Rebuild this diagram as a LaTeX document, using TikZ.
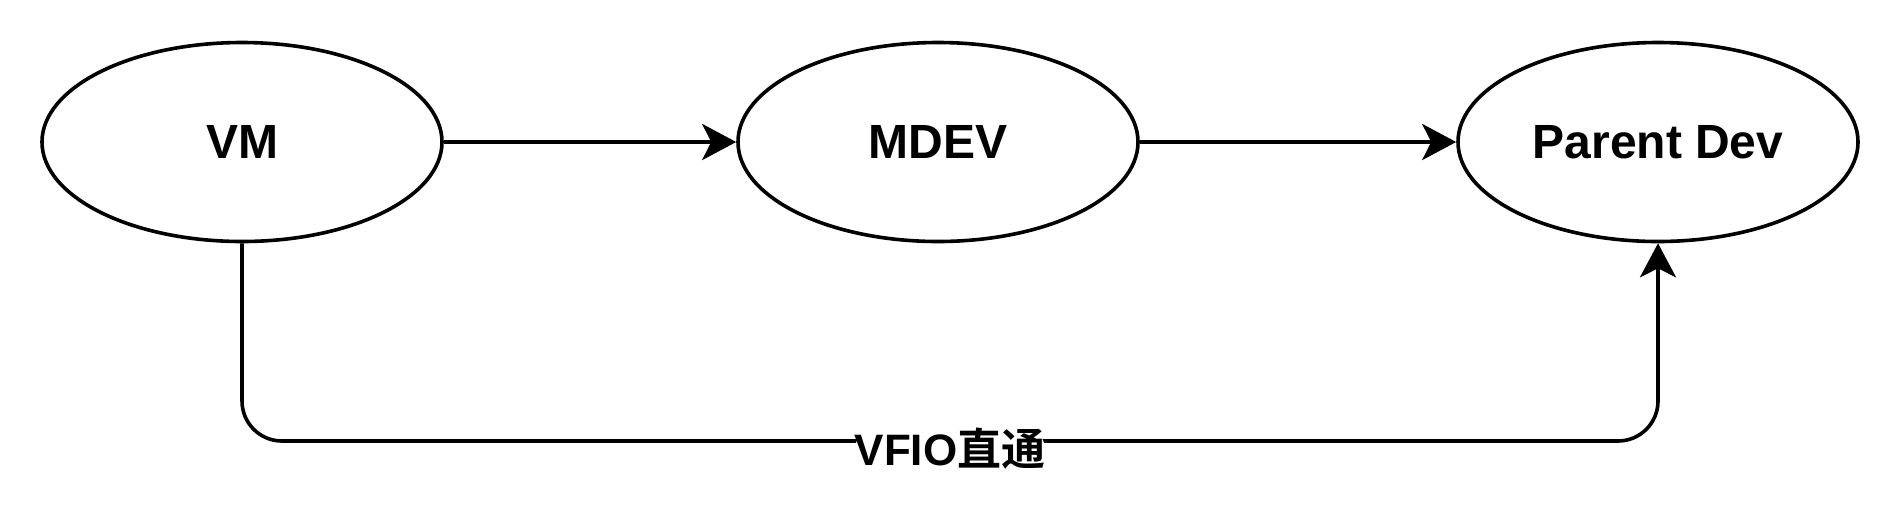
\documentclass[tikz,border=0pt]{standalone}
\usepackage{fontspec}
\setmainfont{Liberation Sans}
\newfontfamily\cjk{Noto Sans CJK SC}[BoldFont={Noto Sans CJK SC Bold}]
\usetikzlibrary{shapes.geometric,arrows.meta}

\begin{document}
\begin{tikzpicture}[
    x=0.5pt, y=-0.5pt,
    devnode/.style={draw, ellipse, line width=1.8pt, minimum width=200pt, minimum height=99.5pt, inner sep=0pt, font=\fontsize{24}{28}\selectfont\bfseries},
    link/.style={line width=1.8pt, -{Stealth[length=17pt, width=18pt, inset=4.5pt]}},
    tag/.style={fill=white, inner xsep=0.5pt, inner ysep=6pt, font=\fontsize{22}{26}\selectfont\bfseries},
]
\useasboundingbox (0,0) rectangle (1900,516);

% devices
\node[devnode] (vm) at (242,142) {VM};
\node[devnode] (mdev) at (938,142) {MDEV};
\node[devnode] (parent) at (1658,142) {Parent Dev};

% mediated path
\draw[link] (vm) -- (mdev);
\draw[link] (mdev) -- (parent);

% passthrough
\draw[link, rounded corners=20pt] (vm.south) -- (vm.south |- 0,441)
  -- node[tag, yshift=-4pt] {VFIO{\cjk\bfseries 直通}} (parent.south |- 0,441) -- (parent.south);
\end{tikzpicture}
\end{document}
